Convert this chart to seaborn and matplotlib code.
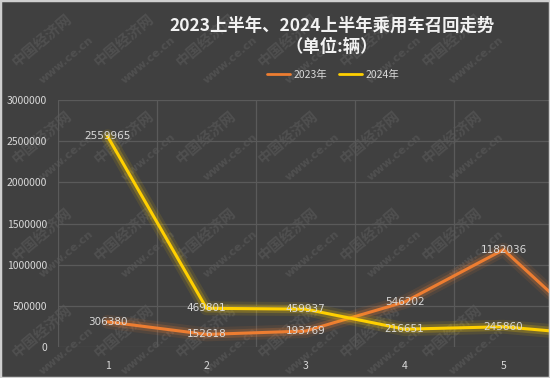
import matplotlib
matplotlib.use("Agg")
import matplotlib.pyplot as plt
import matplotlib.patheffects as pe
from matplotlib.lines import Line2D
from matplotlib.patches import Rectangle
import seaborn as sns
import pandas as pd

months = [1, 2, 3, 4, 5, 6]
recall_2023 = [306380, 152618, 193769, 546202, 1182036, 80000]
recall_2024 = [2559965, 469801, 459937, 216651, 245860, 140000]
series_names = ["2023年", "2024年"]
y_ticks = [0, 500000, 1000000, 1500000, 2000000, 2500000, 3000000]
title = "2023上半年、2024上半年乘用车召回走势\n（单位:辆）"
watermark_logo = "中国经济网"
watermark_url = "www.ce.cn"

colors = {"2023年": "#ED7D31", "2024年": "#FFD000"}
bg = "#404040"

df = pd.DataFrame({
    "pos": list(range(len(months))) * 2,
    "value": recall_2023 + recall_2024,
    "series": [series_names[0]] * len(months) + [series_names[1]] * len(months),
})

sns.set_theme(style="dark")
plt.rcParams["font.family"] = ["Noto Sans CJK SC", "DejaVu Sans"]

W, H = 550, 378
fig = plt.figure(figsize=(W / 100, H / 100), dpi=100)
fig.patch.set_facecolor(bg)

# faint tiled watermark (only whole copies inside the picture), drawn beneath the chart
wm_col = "#505050"
for ix in range(0, 6):
    for iy in range(0, 4):
        cx = 42 + 82 * ix
        cy = 40 + 97 * iy
        fig.text(cx / W, 1 - cy / H, watermark_logo, rotation=40, fontsize=10.5,
                 color=wm_col, ha="center", va="center", zorder=-5, fontweight="bold")
        fig.text((cx + 24) / W, 1 - (cy + 20) / H, watermark_url, rotation=40, fontsize=8,
                 color=wm_col, ha="center", va="center", zorder=-5, fontweight="bold",
                 family="DejaVu Sans")

# plot area is wider than the picture: the 6th month lies beyond the right edge
left, right, top, bottom = 58, 652, 100, 347
ax = fig.add_axes([left / W, 1 - bottom / H, (right - left) / W, (bottom - top) / H])
ax.patch.set_alpha(0)
ax.set_zorder(1)

sns.lineplot(data=df, x="pos", y="value", hue="series", palette=colors,
             sort=False, linewidth=2.2, legend=False, ax=ax, zorder=3)
for line in ax.get_lines():
    c = line.get_color()
    line.set_path_effects([
        pe.Stroke(linewidth=10, foreground=c, alpha=0.10),
        pe.Stroke(linewidth=6, foreground=c, alpha=0.22),
        pe.Normal(),
    ])

for vals in (recall_2023, recall_2024):
    for i, v in enumerate(vals[:5]):
        ax.text(i, v, str(v), ha="center", va="center", fontsize=7.5,
                color="#d9d9d9", family="DejaVu Sans", zorder=5)

ax.set_xlim(-0.5, len(months) - 0.5)
ax.set_ylim(0, 3000000)
ax.set_yticks(y_ticks)
ax.set_yticklabels([str(t) for t in y_ticks])
ax.set_xticks(range(len(months) - 1))
ax.set_xticklabels([str(m) for m in months[:-1]])
ax.tick_params(axis="both", colors="#d9d9d9", labelsize=7.5, length=0)
ax.tick_params(axis="x", pad=10)
ax.tick_params(axis="y", pad=8)
ax.grid(False)
for y in y_ticks:
    ax.axhline(y, color="#5a5a5a", linewidth=0.9, zorder=1)
for x in [i + 0.5 for i in range(-1, len(months))]:
    ax.axvline(x, color="#5a5a5a", linewidth=0.9, zorder=1)
for s in ax.spines.values():
    s.set_visible(False)
ax.set_xlabel("")
ax.set_ylabel("")

fig.text(332 / W, 1 - 36 / H, title, ha="center", va="center", fontsize=12.5,
         fontweight="bold", color="#f2f2f2", linespacing=1.25, zorder=5)

handles = [Line2D([0], [0], color=colors[n], linewidth=2) for n in series_names]
leg = fig.legend(handles, series_names, loc="center", bbox_to_anchor=(333 / W, 1 - 75 / H),
                 ncol=2, frameon=False, fontsize=7.5, handlelength=2.2, handletextpad=0.3,
                 columnspacing=1.2)
leg.set_zorder(5)
for t in leg.get_texts():
    t.set_color("#d9d9d9")

fig.patches.append(Rectangle((0, 0), 1, 1, transform=fig.transFigure, fill=False,
                             edgecolor="#cfcfcf", linewidth=2.5, zorder=6))

fig.savefig("out.png", dpi=100, facecolor=bg)
